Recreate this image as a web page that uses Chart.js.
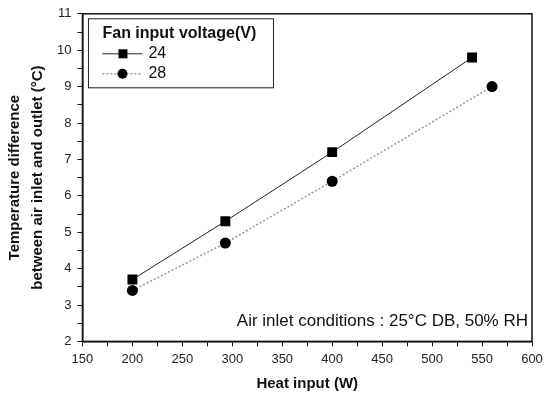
<!DOCTYPE html>
<html>
<head>
<meta charset="utf-8">
<script src="https://cdn.jsdelivr.net/npm/chart.js@4.4.0/dist/chart.umd.min.js"></script>
<style>
  html, body { margin: 0; padding: 0; background: #fff; }
  #wrap { width: 554px; height: 395px; }
</style>
</head>
<body>
<div id="wrap"><canvas id="myChart" width="554" height="395"></canvas></div>
<script>
var heatInput24 = [200, 293, 400, 540];
var tempDiff24 = [3.7, 5.3, 7.2, 9.8];
var heatInput28 = [200, 293, 400, 560];
var tempDiff28 = [3.4, 4.7, 6.4, 9.0];
var seriesLabels = ["24", "28"];
var legendTitle = "Fan input voltage(V)";
var noteText = "Air inlet conditions : 25°C DB, 50% RH";

function toPoints(xs, ys) {
    var pts = [];
    for (let i = 0; i < xs.length; i++) {
        pts.push({ x: xs[i], y: ys[i] });
    }
    return pts;
}

// frame, legend box and the note inside the plot
var extras = {
    id: "extras",
    afterDraw: function (chart) {
        var ctx = chart.ctx;
        var a = chart.chartArea;
        ctx.save();
        ctx.strokeStyle = "#111";
        ctx.lineWidth = 1.5;
        ctx.strokeRect(a.left, a.top, a.right - a.left, a.bottom - a.top);

        // legend
        var lx = a.left + 6, ly = a.top + 5, lw = 185, lh = 69;
        ctx.lineWidth = 1;
        ctx.strokeStyle = "#222";
        ctx.strokeRect(lx, ly, lw, lh);
        ctx.fillStyle = "#111";
        ctx.font = "bold 16px 'Liberation Sans', Arial, sans-serif";
        ctx.textBaseline = "middle";
        ctx.fillText(legendTitle, lx + 14, ly + 15);
        ctx.font = "16px 'Liberation Sans', Arial, sans-serif";
        chart.data.datasets.forEach(function (ds, i) {
            var yy = ly + 35 + i * 20;
            ctx.save();
            ctx.strokeStyle = ds.borderColor;
            ctx.lineWidth = ds.borderWidth;
            ctx.setLineDash(ds.borderDash || []);
            ctx.beginPath();
            ctx.moveTo(lx + 14, yy);
            ctx.lineTo(lx + 54, yy);
            ctx.stroke();
            ctx.restore();
            ctx.fillStyle = "#000";
            if (ds.pointStyle === "rect") {
                ctx.fillRect(lx + 30, yy - 4.5, 9, 9);
            } else {
                ctx.beginPath();
                ctx.arc(lx + 34, yy, 5, 0, Math.PI * 2);
                ctx.fill();
            }
            ctx.fillStyle = "#111";
            ctx.fillText(ds.label, lx + 60, yy);
        });

        // note
        ctx.font = "17px 'Liberation Sans', Arial, sans-serif";
        ctx.textAlign = "right";
        ctx.fillText(noteText, a.right - 4, a.bottom - 20);
        ctx.restore();
    }
};

new Chart("myChart", {
    type: "scatter",
    data: {
        datasets: [{
            label: seriesLabels[0],
            data: toPoints(heatInput24, tempDiff24),
            showLine: true,
            borderColor: "#222",
            borderWidth: 1,
            backgroundColor: "#000",
            pointStyle: "rect",
            pointRadius: 7,
            pointBorderWidth: 0
        }, {
            label: seriesLabels[1],
            data: toPoints(heatInput28, tempDiff28),
            showLine: true,
            borderColor: "#999",
            borderWidth: 1.5,
            borderDash: [2, 2],
            backgroundColor: "#000",
            pointStyle: "circle",
            pointRadius: 5.5,
            pointBorderWidth: 0
        }]
    },
    options: {
        responsive: false,
        animation: false,
        layout: { padding: { top: 12, right: 22, left: 4, bottom: 0 } },
        plugins: {
            legend: { display: false },
            tooltip: { enabled: false }
        },
        scales: {
            x: {
                type: "linear",
                min: 150,
                max: 600,
                grid: { display: true, drawOnChartArea: false, tickLength: 5, color: "#111" },
                border: { display: true, color: "#111", width: 1.5 },
                ticks: {
                    stepSize: 25,
                    autoSkip: false,
                    maxRotation: 0,
                    padding: 5,
                    color: "#222",
                    font: { size: 13, family: "'Liberation Sans', Arial, sans-serif" },
                    callback: function (v) { return v % 50 === 0 ? v : ""; }
                },
                title: {
                    display: true,
                    text: "Heat input (W)",
                    color: "#111",
                    font: { size: 15, weight: "bold", family: "'Liberation Sans', Arial, sans-serif" },
                    padding: { top: 3, bottom: 2 }
                }
            },
            y: {
                min: 2,
                max: 11,
                grid: { display: true, drawOnChartArea: false, tickLength: 5, color: "#111" },
                border: { display: true, color: "#111", width: 1.5 },
                ticks: {
                    stepSize: 0.5,
                    autoSkip: false,
                    padding: 6,
                    color: "#222",
                    font: { size: 13, family: "'Liberation Sans', Arial, sans-serif" },
                    callback: function (v) { return v % 1 === 0 ? v : ""; }
                },
                title: {
                    display: true,
                    text: ["Temperature difference", "between air inlet and outlet (°C)"],
                    color: "#111",
                    font: { size: 15, weight: "bold", family: "'Liberation Sans', Arial, sans-serif", lineHeight: 1.5 },
                    padding: { top: 0, bottom: 2 }
                }
            }
        }
    },
    plugins: [extras]
});
</script>
</body>
</html>
